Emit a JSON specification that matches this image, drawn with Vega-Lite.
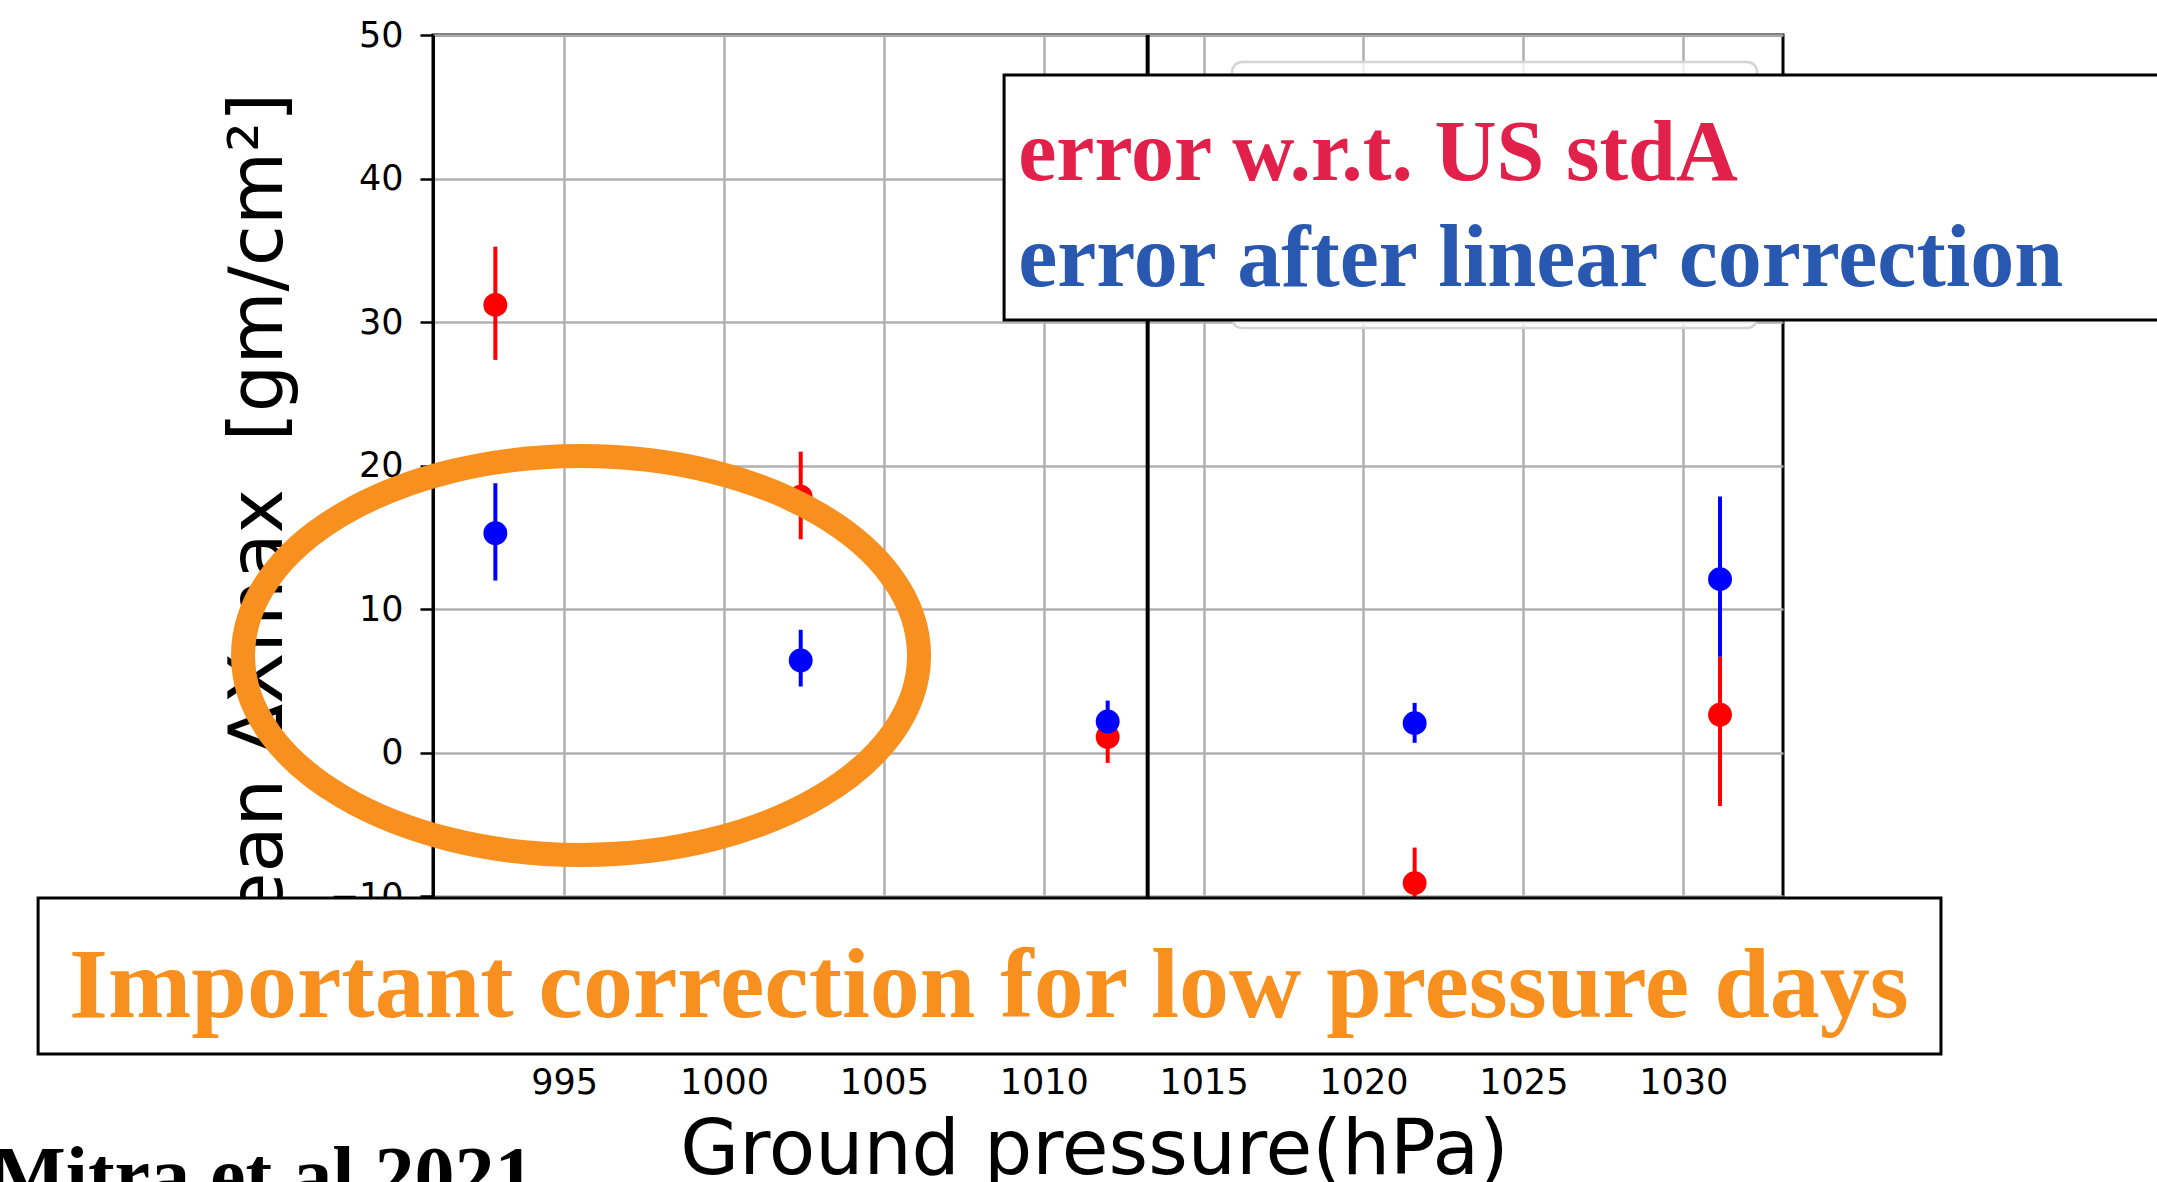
{
  "$schema": "https://vega.github.io/schema/vega-lite/v6.json",
  "width": 1350,
  "height": 1005,
  "autosize": {"type": "none"},
  "padding": {"left": 433, "top": 35, "right": 374, "bottom": 142},
  "background": "white",
  "config": {
    "view": {"stroke": "black", "strokeWidth": 3},
    "axis": {
      "labelFont": "DejaVu Sans",
      "labelFontSize": 35,
      "labelColor": "black",
      "titleFont": "DejaVu Sans",
      "titleFontSize": 75,
      "titleFontWeight": "normal",
      "titleColor": "black",
      "gridColor": "#b0b0b0",
      "gridWidth": 2.5,
      "gridOpacity": 1,
      "tickColor": "black",
      "tickWidth": 2.5,
      "tickSize": 13,
      "domainColor": "black",
      "domainWidth": 3
    }
  },
  "datasets": {
    "red": [
      {"p": 992.85, "v": 31.2, "lo": 27.37, "hi": 35.26},
      {"p": 1002.4, "v": 17.85, "lo": 14.88, "hi": 20.98},
      {"p": 1012.0, "v": 1.1, "lo": -0.7, "hi": 2.9},
      {"p": 1021.6, "v": -9.07, "lo": -11.5, "hi": -6.6},
      {"p": 1031.15, "v": 2.65, "lo": -3.7, "hi": 6.7}
    ],
    "blue": [
      {"p": 992.85, "v": 15.3, "lo": 12.0, "hi": 18.78},
      {"p": 1002.4, "v": 6.43, "lo": 4.62, "hi": 8.57},
      {"p": 1012.0, "v": 2.18, "lo": 1.4, "hi": 3.64},
      {"p": 1021.6, "v": 2.07, "lo": 0.7, "hi": 3.48},
      {"p": 1031.15, "v": 12.1, "lo": 6.7, "hi": 17.85}
    ]
  },
  "layer": [
    {
      "data": {"name": "red"},
      "mark": {"type": "rule", "color": "#ff0000", "strokeWidth": 4},
      "encoding": {
        "x": {"field": "p", "type": "quantitative", "title": "Ground pressure(hPa)",
              "scale": {"domain": [990.9, 1033.12], "nice": false, "zero": false},
              "axis": {"values": [995, 1000, 1005, 1010, 1015, 1020, 1025, 1030], "format": "d", "labelPadding": 12, "titlePadding": 13, "titleX": 661, "titleFontSize": 76, "domain": false, "grid": true}},
        "y": {"field": "lo", "type": "quantitative", "title": "Mean ΔXmax\u00a0 [gm/cm²]",
              "scale": {"domain": [-20, 50], "nice": false, "zero": false},
              "axis": {"values": [-20, -10, 0, 10, 20, 30, 40, 50], "labelPadding": 17, "titlePadding": 32, "grid": true}},
        "y2": {"field": "hi"}
      }
    },
    {
      "data": {"name": "red"},
      "mark": {"type": "circle", "color": "#ff0000", "size": 570, "opacity": 1},
      "encoding": {
        "x": {"field": "p", "type": "quantitative"},
        "y": {"field": "v", "type": "quantitative"}
      }
    },
    {
      "data": {"name": "blue"},
      "mark": {"type": "rule", "color": "#0000ff", "strokeWidth": 4},
      "encoding": {
        "x": {"field": "p", "type": "quantitative"},
        "y": {"field": "lo", "type": "quantitative"},
        "y2": {"field": "hi"}
      }
    },
    {
      "data": {"name": "blue"},
      "mark": {"type": "circle", "color": "#0000ff", "size": 570, "opacity": 1},
      "encoding": {
        "x": {"field": "p", "type": "quantitative"},
        "y": {"field": "v", "type": "quantitative"}
      }
    },
    {
      "data": {"values": [{}]},
      "mark": {"type": "rule", "color": "black", "strokeWidth": 4},
      "encoding": {
        "x": {"datum": 1013.25, "type": "quantitative"}
      }
    },
    {
      "data": {"values": [{}]},
      "mark": {"type": "rect", "fill": "white", "fillOpacity": 0.8, "stroke": "#d4d4d4", "strokeWidth": 2.5, "cornerRadius": 10},
      "encoding": {
        "x": {"datum": 1015.89, "type": "quantitative"},
        "x2": {"datum": 1032.31},
        "y": {"datum": 48.12, "type": "quantitative"},
        "y2": {"datum": 29.59}
      }
    },
    {
      "data": {"values": [{}]},
      "mark": {"type": "point", "shape": "M -1 0 A 1 0.59 0 1 1 1 0 A 1 0.59 0 1 1 -1 0 Z", "size": 456976, "filled": false, "stroke": "#F8901F", "strokeWidth": 24, "opacity": 1},
      "encoding": {
        "x": {"datum": 995.53, "type": "quantitative"},
        "y": {"datum": 6.78, "type": "quantitative"}
      }
    },
    {
      "data": {"values": [{}]},
      "mark": {"type": "rect", "fill": "white", "stroke": "black", "strokeWidth": 3},
      "encoding": {
        "x": {"datum": 1008.76, "type": "quantitative"},
        "x2": {"datum": 1045.38},
        "y": {"datum": 47.21, "type": "quantitative"},
        "y2": {"datum": 30.15}
      }
    },
    {
      "data": {"values": [{}]},
      "mark": {"type": "text", "text": "error w.r.t. US stdA", "font": "Liberation Serif", "fontWeight": "bold", "fontSize": 86, "color": "#E2214B", "align": "left", "baseline": "alphabetic"},
      "encoding": {
        "x": {"datum": 1009.2, "type": "quantitative"},
        "y": {"datum": 39.9, "type": "quantitative"}
      }
    },
    {
      "data": {"values": [{}]},
      "mark": {"type": "text", "text": "error after linear correction", "font": "Liberation Serif", "fontWeight": "bold", "fontSize": 88, "color": "#2858B0", "align": "left", "baseline": "alphabetic"},
      "encoding": {
        "x": {"datum": 1009.2, "type": "quantitative"},
        "y": {"datum": 32.52, "type": "quantitative"}
      }
    },
    {
      "data": {"values": [{}]},
      "mark": {"type": "rect", "fill": "white", "stroke": "black", "strokeWidth": 3},
      "encoding": {
        "x": {"datum": 978.55, "type": "quantitative"},
        "x2": {"datum": 1038.06},
        "y": {"datum": -10.11, "type": "quantitative"},
        "y2": {"datum": -20.98}
      }
    },
    {
      "data": {"values": [{}]},
      "mark": {"type": "text", "text": "Important correction for low pressure days", "font": "Liberation Serif", "fontWeight": "bold", "fontSize": 100, "color": "#F8901F", "align": "left", "baseline": "alphabetic"},
      "encoding": {
        "x": {"datum": 979.52, "type": "quantitative"},
        "y": {"datum": -18.4, "type": "quantitative"}
      }
    },
    {
      "data": {"values": [{}]},
      "mark": {"type": "text", "text": "Mitra et al 2021", "font": "Liberation Serif", "fontWeight": "bold", "fontSize": 80, "color": "black", "align": "left", "baseline": "alphabetic"},
      "encoding": {
        "x": {"datum": 977.05, "type": "quantitative"},
        "y": {"datum": -31.28, "type": "quantitative"}
      }
    }
  ]
}
